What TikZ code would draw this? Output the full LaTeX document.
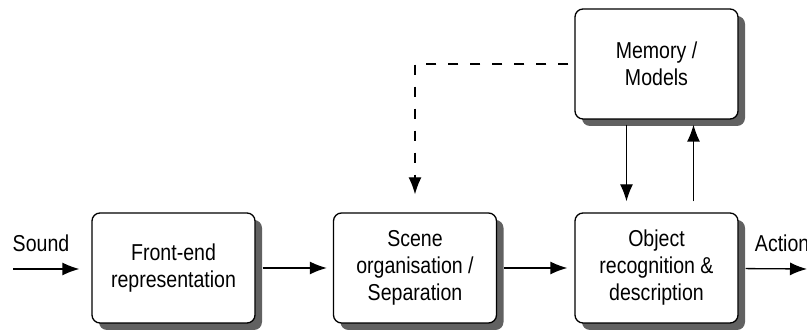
\documentclass[tikz,border=0pt]{standalone}
\usepackage{fontspec}
\setmainfont{Liberation Sans}[FakeStretch=0.85]
\usetikzlibrary{arrows.meta,positioning,shadows}

\begin{document}
\begin{tikzpicture}[x=1pt,y=1pt,->,>={Latex[length=17pt,width=13pt]},
    line width=1.3pt,node distance=241.5pt,on grid,
    font=\fontsize{23}{27}\selectfont,
    block/.style={draw,rounded corners=8pt,fill=white,align=center,
      minimum width=163pt,minimum height=110pt,
      drop shadow={shadow xshift=7pt,shadow yshift=-7pt,fill=black!62,opacity=1}}]
    \useasboundingbox (0,0) rectangle (807,331);
    \node[block]  (fe)  at (173.5,63)       {Front-end\\representation};
    \node[block]  (sc)  [right=of fe]       {Scene\\organisation /\\Separation};
    \node[block]  (obj) [right=of sc]       {Object\\recognition \&\\description};
    \node[block]  (mem) [above=204pt of obj] {Memory /\\Models};
    % free ends and labels
    \coordinate (snd) at (13,62);
    \coordinate (act) at (807,62);
    \node (sndlbl) at (41,88)             {Sound};
    \node (actlbl) [anchor=west] at (751,88) {Action};

    \path [shorten <=7pt]
        (snd) edge [shorten <=0pt,shorten >=12pt] (snd -| fe.west)
        (fe)  edge [shorten >=6pt]  (sc)
        (sc)  edge [shorten >=7pt]  (obj)
        (obj) edge                  (act);
    \draw [shorten <=5pt,shorten >=11pt]
        ([xshift=-30pt]mem.south) -- ([xshift=-30pt]obj.north);
    \draw [shorten <=11pt,shorten >=5pt]
        ([xshift=37pt]obj.north) -- ([xshift=37pt]mem.south);
    \draw [dash pattern=on 10pt off 12pt,shorten <=6pt,shorten >=18pt]
        (mem.west) -| (sc.north);
\end{tikzpicture}
\end{document}
